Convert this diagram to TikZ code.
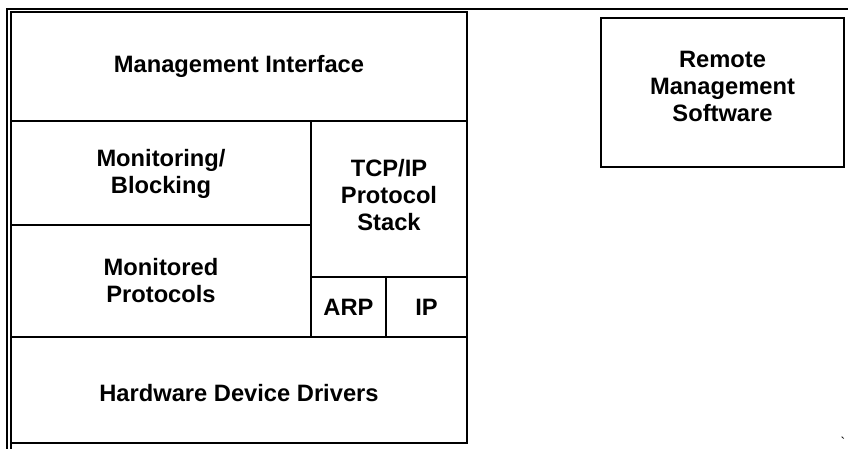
\documentclass[tikz,border=0pt]{standalone}
\usepackage{fontspec}
\setmainfont{Liberation Sans}
\begin{document}
\begin{tikzpicture}[x=1pt,y=-1pt, line width=1.4pt,
  blk/.style={draw, rectangle, inner sep=0pt, outer sep=0pt},
  lbl/.style={font=\fontsize{23.7}{27}\selectfont\bfseries, align=center, inner sep=0pt}]
\useasboundingbox (0,0) rectangle (848,449);
% outer frame
\coordinate (tl) at (7,9);
\coordinate (tr) at (848,9);
\coordinate (bl) at (7,449);
\coordinate (ib) at (11,449);
\draw (tr) -- (tl) -- (bl);
% boxes
\node[blk, minimum width=456pt, minimum height=109pt] (mgmt) at (239,66.5) {};
\node[blk, minimum width=300pt, minimum height=104pt] (monb) at (161,173) {};
\node[blk, minimum width=300pt, minimum height=112pt] (monp) at (161,281) {};
\node[blk, minimum width=156pt, minimum height=156pt] (tcp) at (389,199) {};
\node[blk, minimum width=75pt, minimum height=60pt] (arp) at (348.5,307) {};
\node[blk, minimum width=81pt, minimum height=60pt] (ip) at (426.5,307) {};
\node[blk, minimum width=456pt, minimum height=106pt] (hw) at (239,390) {};
\node[blk, minimum width=243pt, minimum height=149pt] (remote) at (722.5,92.5) {};
\draw (mgmt.north west) -- (ib);
% labels
\node[lbl] (tmgmt) at (mgmt.center) {Management Interface};
\node[lbl] (tmonb) at ([yshift=-1pt]monb.center) {Monitoring/\\Blocking};
\node[lbl] (tmonp) at (monp.center) {Monitored\\Protocols};
\node[lbl] (ttcp) at ([yshift=4pt]tcp.center) {TCP/IP\\Protocol\\Stack};
\node[lbl] (tarp) at (arp.center) {ARP};
\node[lbl] (tip) at (ip.center) {IP};
\node[lbl] (thw) at ([yshift=-3pt]hw.center) {Hardware Device Drivers};
\node[lbl] (tremote) at ([yshift=6pt]remote.center) {Remote\\Management\\Software};
\node[font=\fontsize{14}{14}\selectfont, inner sep=0pt] (tick) at (843,442) {\textasciigrave};
\end{tikzpicture}
\end{document}
